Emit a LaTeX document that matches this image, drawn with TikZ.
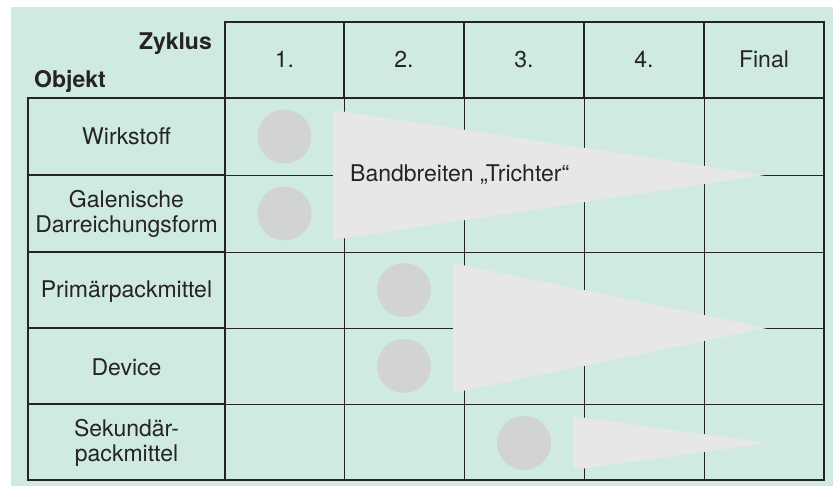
\documentclass[tikz,border=0pt]{standalone}
\usepackage{fontspec}
\setmainfont{TeX Gyre Heros}
\definecolor{bgmint}{HTML}{CFEAE3}
\definecolor{dotgrey}{HTML}{D2D3D5}
\definecolor{trigrey}{HTML}{E6E7E6}
\definecolor{ink}{HTML}{262324}
\begin{document}
\begin{tikzpicture}[x=1pt,y=-1pt,
  thinline/.style={line width=0.9pt,draw=ink},
  thickline/.style={line width=1.9pt,draw=ink},
  lbl/.style={inner sep=0pt,text=ink,font=\fontsize{23}{25}\selectfont},
  hdr/.style={lbl,font=\bfseries\fontsize{23}{25}\selectfont},
  dot/.style={circle,fill=dotgrey,minimum size=54pt,inner sep=0pt},
  funnel/.style={fill=trigrey}]
\useasboundingbox (0,0) rectangle (833,486);
\fill[bgmint] (11,7) rectangle (833,486);
% thin interior grid
\foreach \x in {344,464,584,704} \draw[thinline] (\x,98) -- (\x,480);
\foreach \y in {175,252,328,404} \draw[thinline] (225,\y) -- (824,\y);
% funnels
\coordinate (f1a) at (333,110); \coordinate (f1t) at (765,175); \coordinate (f1b) at (333,240);
\coordinate (f2a) at (453,263); \coordinate (f2t) at (767,328); \coordinate (f2b) at (453,393);
\coordinate (f3a) at (573,416); \coordinate (f3t) at (768,443); \coordinate (f3b) at (573,470);
\fill[funnel] (f1a) -- (f1t) -- (f1b) -- cycle;
\fill[funnel] (f2a) -- (f2t) -- (f2b) -- cycle;
\fill[funnel] (f3a) -- (f3t) -- (f3b) -- cycle;
% thick frame lines
\draw[thickline] (225,22) rectangle (824,98);
\foreach \x in {344,464,584,704} \draw[thickline] (\x,22) -- (\x,98);
\draw[thickline] (28,98) rectangle (225,480);
\foreach \y in {175,252,328,404} \draw[thickline] (28,\y) -- (225,\y);
\draw[thickline] (225,480) -- (824,480) -- (824,98);
% header texts
\node[hdr,anchor=base east] (zyklus) at (212,50) {Zyklus};
\node[hdr,anchor=base west] (objekt) at (34,88) {Objekt};
\node[lbl,anchor=base] (h1) at (284.5,68) {1.};
\node[lbl,anchor=base] (h2) at (404,68) {2.};
\node[lbl,anchor=base] (h3) at (524,68) {3.};
\node[lbl,anchor=base] (h4) at (644,68) {4.};
\node[lbl,anchor=base] (h5) at (764,68) {Final};
% row labels
\node[lbl,anchor=base] (r1) at (126.5,145) {Wirkstoff};
\node[lbl,align=center] (r2) at (126.5,213.5) {Galenische\\Darreichungsform};
\node[lbl,anchor=base] (r3) at (126.5,298) {Primärpackmittel};
\node[lbl,anchor=base] (r4) at (126.5,375) {Device};
\node[lbl,align=center] (r5) at (126.5,443) {Sekundär-\\packmittel};
% dots
\node[dot] (d1) at (284.5,136.5) {};
\node[dot] (d2) at (284.5,213.5) {};
\node[dot] (d3) at (404,290) {};
\node[dot] (d4) at (404,366) {};
\node[dot] (d5) at (524,443) {};
% funnel label
\node[lbl,anchor=base west] (band) at (350,182) {Bandbreiten „Trichter“};
\end{tikzpicture}
\end{document}
